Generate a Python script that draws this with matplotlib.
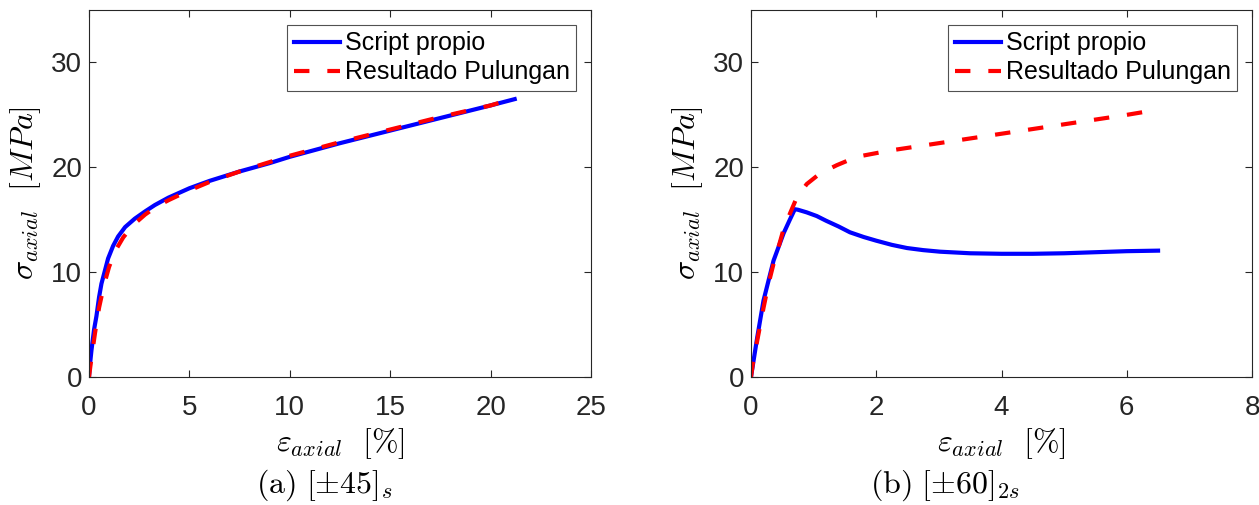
import matplotlib
matplotlib.use("Agg")
import matplotlib.pyplot as plt

plt.rcParams['mathtext.fontset'] = 'cm'
plt.rcParams['font.family'] = ['Liberation Sans', 'DejaVu Sans']

# Panel (a) [±45]s
a_script_x = [0, 0.05, 0.12, 0.25, 0.37, 0.5, 0.62, 0.8, 0.95, 1.2, 1.45, 1.8, 2.28, 2.8, 3.28,
              3.95, 5, 6, 7.5, 9, 10, 12.5, 15, 17.5, 20, 21.2]
a_script_y = [0, 1.2, 2.5, 4.5, 5.8, 7.6, 8.9, 10.2, 11.3, 12.5, 13.4, 14.3, 15.1, 15.8, 16.4,
              17.1, 18.0, 18.7, 19.6, 20.4, 21.0, 22.3, 23.5, 24.7, 25.9, 26.5]
a_pul_x = [0, 0.1, 0.3, 0.5, 0.75, 1.0, 1.3, 1.7, 2.2, 2.8, 3.4, 4.0, 5, 6, 7.5, 9, 10,
           12.5, 15, 17.5, 20, 21.2]
a_pul_y = [0, 1.5, 4.2, 6.6, 8.8, 10.5, 12.0, 13.3, 14.5, 15.5, 16.3, 16.9, 17.8, 18.6, 19.6,
           20.5, 21.1, 22.4, 23.6, 24.8, 25.9, 26.6]

# Panel (b) [±60]2s
b_script_x = [0, 0.1, 0.2, 0.36, 0.52, 0.62, 0.70, 0.75, 0.89, 1.05, 1.2, 1.4, 1.58, 1.8, 2.0,
              2.25, 2.49, 2.75, 3.02, 3.5, 4.0, 4.5, 5.0, 5.5, 6.0, 6.5]
b_script_y = [0, 3.8, 7.3, 11.1, 13.7, 15.0, 16.0, 15.95, 15.7, 15.35, 14.9, 14.35, 13.8, 13.35,
              13.0, 12.6, 12.3, 12.1, 11.95, 11.8, 11.75, 11.75, 11.8, 11.9, 12.0, 12.05]
b_pul_x = [0, 0.03, 0.11, 0.2, 0.28, 0.36, 0.44, 0.52, 0.63, 0.73, 0.89, 1.1, 1.37, 1.69, 2.22,
           3.0, 4.0, 5.0, 6.0, 6.5]
b_pul_y = [0, 1.3, 3.8, 6.6, 8.9, 10.8, 12.4, 14.1, 15.7, 17.1, 18.4, 19.4, 20.2, 21.0, 21.6,
           22.3, 23.2, 24.1, 25.0, 25.5]

legend_labels = ['Script propio', 'Resultado Pulungan']

fig = plt.figure(figsize=(12.59, 5.05), dpi=100)
ax1 = fig.add_axes([89/1259, 1-377/505, (591-89)/1259, (377-10)/505])
ax2 = fig.add_axes([751/1259, 1-377/505, (1252-751)/1259, (377-10)/505])

panels = [
    (ax1, a_script_x, a_script_y, a_pul_x, a_pul_y, [0, 25], [0, 5, 10, 15, 20, 25],
     r'$\mathrm{(a)}\ [\pm45]_s$', 325),
    (ax2, b_script_x, b_script_y, b_pul_x, b_pul_y, [0, 8], [0, 2, 4, 6, 8],
     r'$\mathrm{(b)}\ [\pm60]_{2s}$', 945),
]

dark = '#262626'
for ax, sx, sy, px, py, xlim, xt, cap, capx in panels:
    ax.plot(sx, sy, color='#0000ff', lw=3.0, label=legend_labels[0])
    ax.plot(px, py, color='#ff0000', lw=3.0, ls=(0, (3.7, 4.3)), label=legend_labels[1])
    ax.set_xlim(xlim)
    ax.set_ylim(0, 35)
    ax.set_xticks(xt)
    ax.set_yticks([0, 10, 20, 30])
    ax.tick_params(direction='in', length=5, width=0.8, labelsize=20, colors=dark,
                   top=True, right=True)
    ax.tick_params(axis='x', pad=13)
    ax.tick_params(axis='y', pad=5)
    for s in ax.spines.values():
        s.set_color(dark)
        s.set_linewidth(0.8)
    ax.set_xlabel(r'$\varepsilon_{axial}\ \ [\%]$', fontsize=23, labelpad=4)
    ax.set_ylabel(r'$\sigma_{axial}\ \ [MPa]$', fontsize=23, labelpad=6)
    leg = ax.legend(loc='upper right', fontsize=18, frameon=True, fancybox=False,
                    edgecolor=dark, handlelength=1.85, handletextpad=0.2,
                    borderpad=0.25, labelspacing=0.2, borderaxespad=0.6)
    leg.get_frame().set_linewidth(0.8)
    fig.text(capx / 1259, 1 - 485/505, cap, ha='center', va='center', fontsize=23)

fig.savefig('out.png', dpi=100)
